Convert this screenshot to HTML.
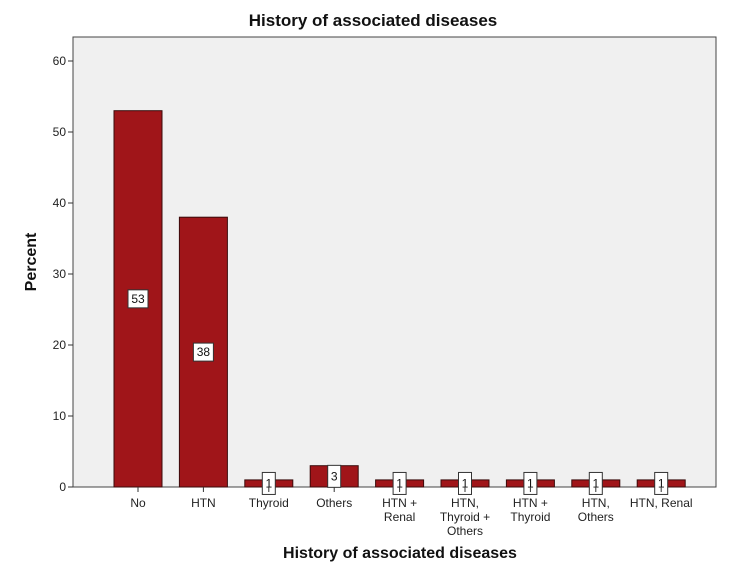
<!DOCTYPE html>
<html><head><meta charset="utf-8"><style>
body{margin:0;background:#fff;}
svg text{font-family:"Liberation Sans",Arial,sans-serif;}
</style></head><body>
<svg width="745" height="571" xmlns="http://www.w3.org/2000/svg">
<text x="373" y="26" text-anchor="middle" font-size="17" font-weight="bold" fill="#111">History of associated diseases</text>
<rect x="73" y="37" width="643" height="450" fill="#f0f0f0" stroke="#444" stroke-width="1"/>
<g id="yaxis"></g>
<g id="bars"></g>
<g id="xaxis"></g>
<text transform="translate(36,262) rotate(-90)" text-anchor="middle" font-size="16" font-weight="bold" fill="#111">Percent</text>
<text x="400" y="558" text-anchor="middle" font-size="16" font-weight="bold" fill="#111">History of associated diseases</text>
</svg>
<script>
const categories=[["No"],["HTN"],["Thyroid"],["Others"],["HTN +","Renal"],["HTN,","Thyroid +","Others"],["HTN +","Thyroid"],["HTN,","Others"],["HTN, Renal"]];
const percents=[53,38,1,3,1,1,1,1,1];
const yTicks=[0,10,20,30,40,50,60];
const NS="http://www.w3.org/2000/svg";
function y(v){return 487-v*7.1;}
function x(i){return 138+i*65.4;}
function mk(tag,attrs,parent,text){const e=document.createElementNS(NS,tag);for(const k in attrs)e.setAttribute(k,attrs[k]);if(text!==undefined)e.textContent=text;parent.appendChild(e);return e;}
const ya=document.getElementById('yaxis'),ba=document.getElementById('bars'),xa=document.getElementById('xaxis');
yTicks.forEach(t=>{
 const l=mk('line',{x1:68,x2:73,y1:y(t),y2:y(t),stroke:'#333'},ya);
 
 
 const tx=mk('text',{x:66,y:y(t)+4,'text-anchor':'end','font-size':12,fill:'#222'},ya,t);
 
 
});
percents.forEach((v,i)=>{
 const cx=x(i);
 const r=mk('rect',{x:cx-24,y:y(v),width:48,height:487-y(v),fill:'#a01519',stroke:'#3a0a0a','stroke-width':1},ba);
 
 
 const s=String(v);const w=s.length*7+6;const my=(y(v)+487)/2;const h=v<5?22:18;
 const b=mk('rect',{x:cx-w/2,y:my-h/2,width:w,height:h,fill:'#fff',stroke:'#333','stroke-width':1},ba);
 
 
 const t=mk('text',{x:cx,y:my+4,'text-anchor':'middle','font-size':12,fill:'#111'},ba,s);
 
 
 const tk=mk('line',{x1:cx,x2:cx,y1:487,y2:492,stroke:'#333'},xa);
 
 
 categories[i].forEach((ln,j)=>{
  const c=mk('text',{x:cx,y:507+j*14,'text-anchor':'middle','font-size':12,fill:'#222'},xa,ln);
  
  
 });
});
</script>
</body></html>
